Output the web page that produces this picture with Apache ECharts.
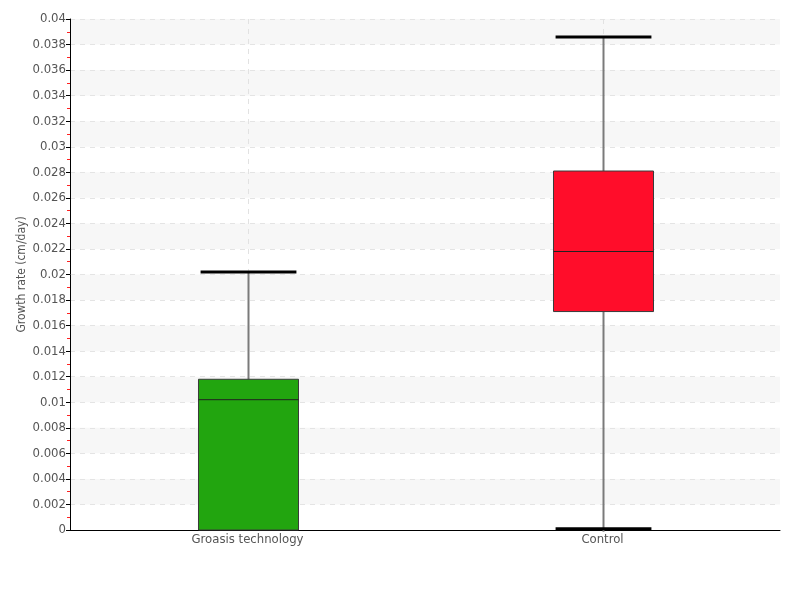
<!DOCTYPE html>
<html>
<head>
<meta charset="utf-8">
<script src="https://cdn.jsdelivr.net/npm/echarts@6/dist/echarts.min.js"></script>
<style>html,body{margin:0;padding:0;background:#fff}#c{width:800px;height:600px}</style>
</head>
<body>
<div id="c"></div>
<script>
var categories = ['Groasis technology', 'Control'];
// [min, q1, median, q3, max]
var groasisStats = [0, 0, 0.0102, 0.0118, 0.0202];
var controlStats = [0.0001, 0.0171, 0.0218, 0.0281, 0.0386];
var boxColors = ['#22a50f', '#ff0d2a'];
var yTicks = { min: 0, max: 0.04, interval: 0.002 };

var FONT = '"DejaVu Sans Condensed","Liberation Sans Narrow",sans-serif';
var chart = echarts.init(document.getElementById('c'));
var stats = [groasisStats, controlStats];
var data = stats.map(function (s, i) { return [i].concat(s); });

chart.setOption({
  animation: false,
  grid: { left: 70, right: 20, top: 19, bottom: 70 },
  xAxis: {
    type: 'category',
    data: categories,
    boundaryGap: true,
    axisLine: { lineStyle: { color: '#000', width: 1 } },
    axisTick: { show: false },
    axisLabel: { color: '#555', fontFamily: FONT, fontSize: 13, margin: 3 },
    splitLine: { show: false }
  },
  yAxis: {
    type: 'value',
    min: yTicks.min, max: yTicks.max, interval: yTicks.interval,
    name: 'Growth rate (cm/day)',
    nameLocation: 'middle',
    nameGap: 42,
    nameMoveOverlap: false,
    nameTextStyle: { color: '#555', fontFamily: FONT, fontSize: 12 },
    axisLine: { show: true, lineStyle: { color: '#000', width: 1 } },
    axisTick: { show: true, length: 4, lineStyle: { color: '#000' } },
    minorTick: { show: true, splitNumber: 2, length: 3, lineStyle: { color: '#ff2020' } },
    axisLabel: { color: '#555', fontFamily: FONT, fontSize: 13, margin: 4,
      formatter: function (v) { return String(+v.toFixed(3)); } },
    splitLine: { show: true, lineStyle: { color: '#e4e4e4', type: [5, 5], width: 1 } },
    splitArea: { show: true, areaStyle: { color: ['rgba(255,255,255,0)', '#f7f7f7'] } }
  },
  series: [{
    type: 'custom',
    data: data,
    renderItem: function (params, api) {
      var idx = api.value(0);
      var pMin = api.coord([idx, api.value(1)]);
      var pQ1 = api.coord([idx, api.value(2)]);
      var pMed = api.coord([idx, api.value(3)]);
      var pQ3 = api.coord([idx, api.value(4)]);
      var pMax = api.coord([idx, api.value(5)]);
      var pTop = api.coord([idx, yTicks.max]);
      var pBot = api.coord([idx, yTicks.min]);
      var band = api.size([1, 0])[0];
      var bw = band * 0.2817;
      var cw = band * 0.27;
      var cx = Math.round(pMed[0]) + 0.5;
      var color = boxColors[idx];
      var children = [
        { type: 'line', shape: { x1: cx, y1: pTop[1], x2: cx, y2: pBot[1] },
          style: { stroke: '#e2e2e2', lineWidth: 1, lineDash: [5, 5] } },
        { type: 'line', shape: { x1: cx, y1: pMax[1], x2: cx, y2: pQ3[1] },
          style: { stroke: '#7a7a7a', lineWidth: 2 } }
      ];
      if (api.value(1) < api.value(2)) {
        children.push({ type: 'line', shape: { x1: cx, y1: pQ1[1], x2: cx, y2: pMin[1] + 3 },
          style: { stroke: '#7a7a7a', lineWidth: 2 } });
      }
      children.push(
        { type: 'rect', shape: { x: cx - bw / 2, y: pQ3[1], width: bw, height: pQ1[1] - pQ3[1] },
          style: { fill: color, stroke: '#3a3a3a', lineWidth: 1 } },
        { type: 'line', shape: { x1: cx - bw / 2, y1: pMed[1], x2: cx + bw / 2, y2: pMed[1] },
          style: { stroke: '#222', lineWidth: 1 } },
        { type: 'line', shape: { x1: cx - cw / 2, y1: pMax[1], x2: cx + cw / 2, y2: pMax[1] },
          style: { stroke: '#000', lineWidth: 3 } }
      );
      if (api.value(1) < api.value(2)) {
        children.push({ type: 'line', shape: { x1: cx - cw / 2, y1: pMin[1], x2: cx + cw / 2, y2: pMin[1] },
          style: { stroke: '#000', lineWidth: 3 } });
      }
      return { type: 'group', children: children };
    }
  }]
});
</script>
</body>
</html>
